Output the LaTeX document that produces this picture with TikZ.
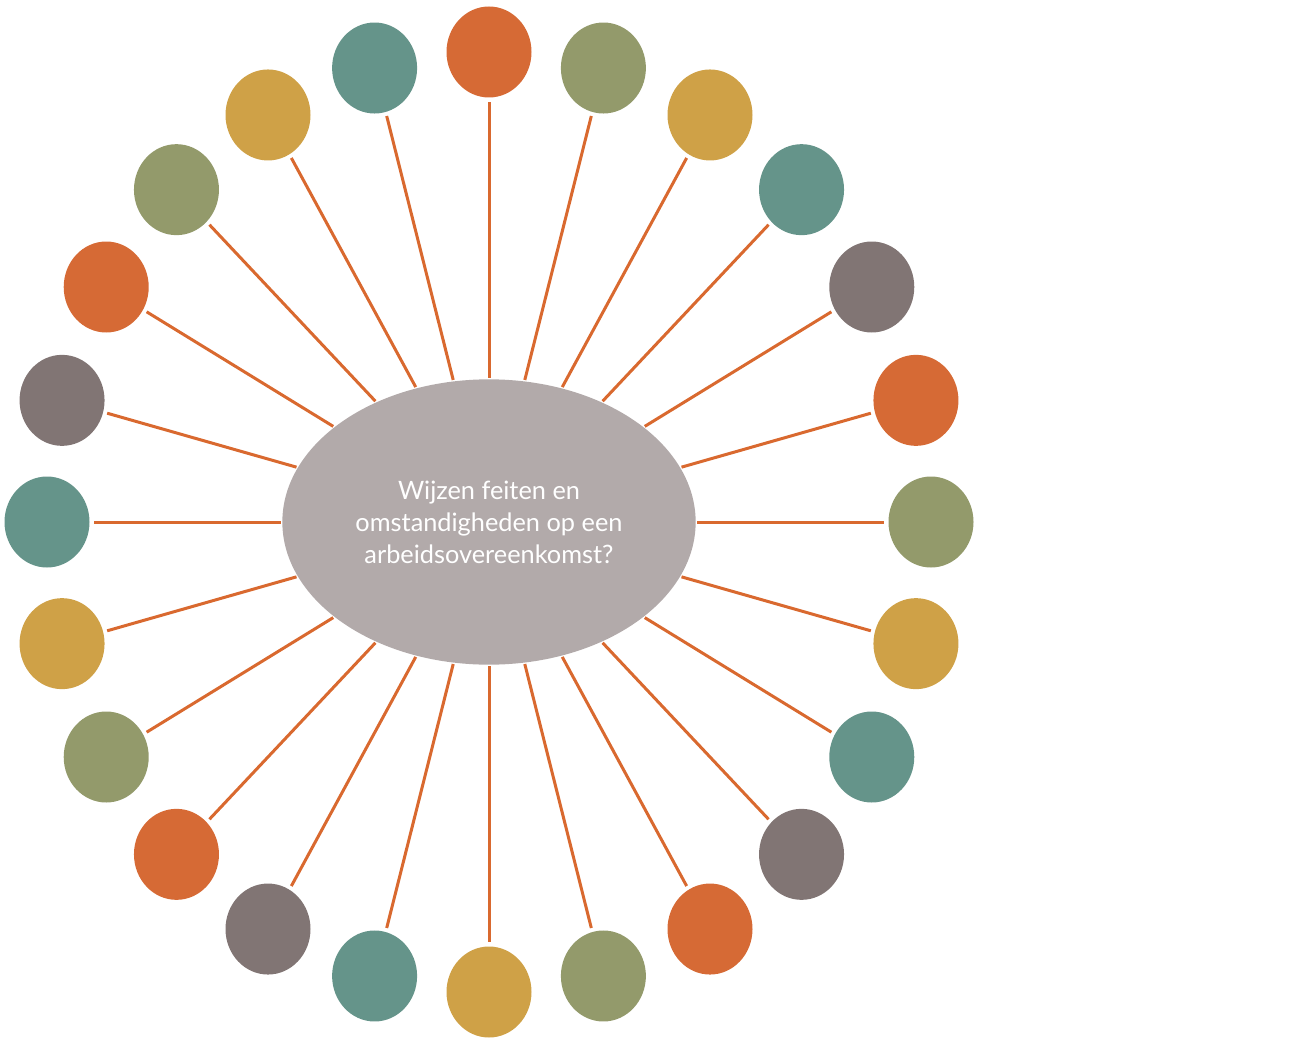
\documentclass[tikz,border=0pt]{standalone}
\usepackage{fontspec}
\setmainfont{Lato}
\usetikzlibrary{positioning, shapes}
\definecolor{tone0}{HTML}{D66A35}
\definecolor{tone1}{HTML}{939A6B}
\definecolor{tone2}{HTML}{CFA147}
\definecolor{tone3}{HTML}{65948A}
\definecolor{tone4}{HTML}{817574}
\definecolor{hub}{HTML}{B2AAAA}
\definecolor{spoke}{HTML}{D9692F}
\begin{document}
\begin{tikzpicture}[x=0.75pt, y=-0.75pt, line width=2.25pt]
	\useasboundingbox (0,0) rectangle (1299,1045);

	\node[ellipse, fill=hub, minimum width=310pt, minimum height=214pt, inner sep=0pt,
		text=white, align=center, font=\fontsize{19}{24}\selectfont]
		(question) at (489,522) {Wijzen feiten en\\omstandigheden op een\\arbeidsovereenkomst?};

	\foreach \i in {0,1,...,23} {
		\pgfmathtruncatemacro{\k}{mod(\i,5)}
		\node[ellipse, fill=tone\k, minimum width=63.75pt, minimum height=68.25pt, inner sep=0pt]
			(c\i) at ({489+442*cos(90-15*\i)},{522-470*sin(90-15*\i)}) {};
		\draw[spoke, shorten >=2pt] (question) -- (c\i);
	}
\end{tikzpicture}
\end{document}
